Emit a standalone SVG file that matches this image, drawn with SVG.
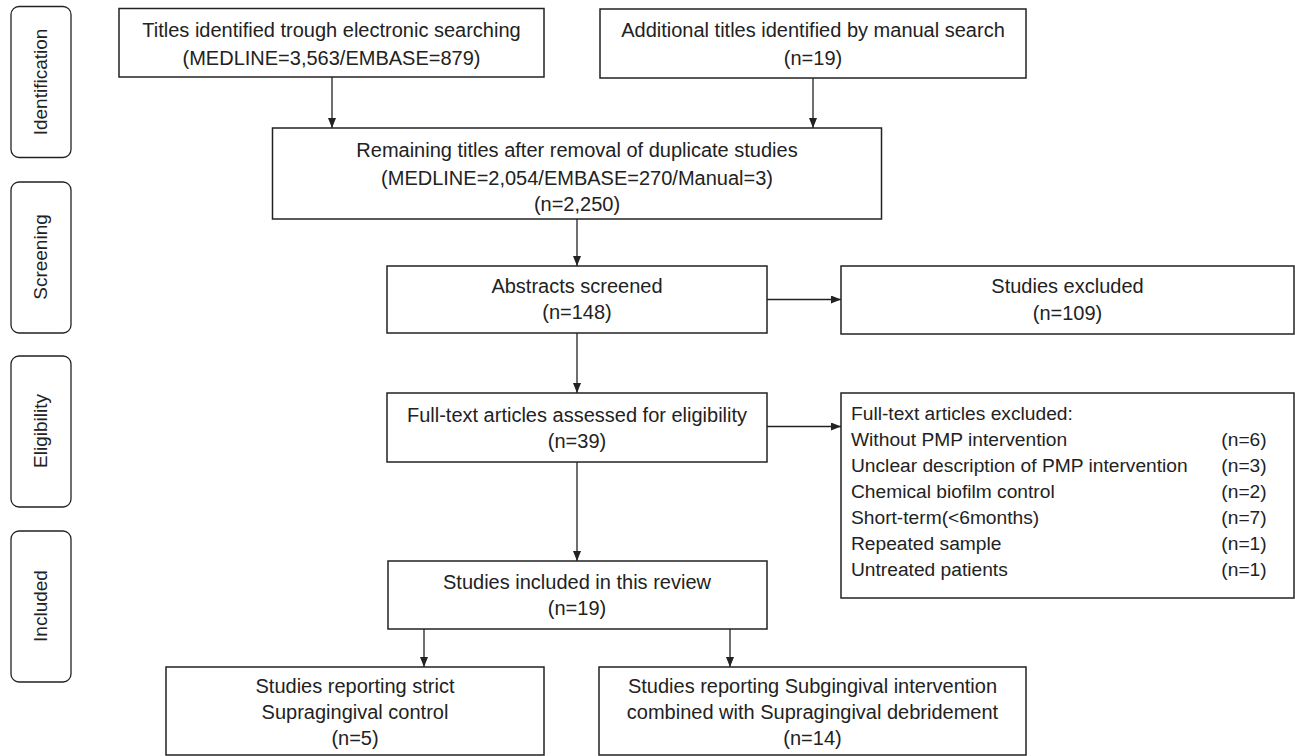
<svg xmlns="http://www.w3.org/2000/svg" width="1295" height="756" viewBox="0 0 1295 756">
<style>
.box{fill:#fff;stroke:#222;stroke-width:1.5}
.side{fill:#fff;stroke:#222;stroke-width:1.3}
text{font-family:"Liberation Sans",Arial,sans-serif;fill:#222}
.t{font-size:20px;text-anchor:middle}
.l{font-size:19.2px}
.n{font-size:19.2px;text-anchor:middle}
.s{font-size:19px;text-anchor:middle}
.c{fill:none;stroke:#222;stroke-width:1.3}
</style>
<defs>
<marker id="ah" viewBox="0 0 10 8" refX="10" refY="4" markerWidth="10" markerHeight="8" markerUnits="userSpaceOnUse" orient="auto">
<path d="M0,0 L10,4 L0,8 z" fill="#222"/>
</marker>
</defs>
<rect width="1295" height="756" fill="#fff"/>

<g id="stage-identification">
<rect class="side" x="11" y="6.5" width="60" height="151" rx="8"/>
<text class="s" transform="translate(47,82) rotate(-90)">Identification</text>
</g>
<g id="stage-screening">
<rect class="side" x="11" y="182" width="60" height="151" rx="8"/>
<text class="s" transform="translate(47,257) rotate(-90)">Screening</text>
</g>
<g id="stage-eligibility">
<rect class="side" x="11" y="356" width="60" height="151" rx="8"/>
<text class="s" transform="translate(47,431) rotate(-90)">Eligibility</text>
</g>
<g id="stage-included">
<rect class="side" x="11" y="531" width="60" height="151" rx="8"/>
<text class="s" transform="translate(47,606) rotate(-90)">Included</text>
</g>

<g id="connectors">
<line class="c" x1="332" y1="77" x2="332" y2="128" marker-end="url(#ah)"/>
<line class="c" x1="813" y1="78" x2="813" y2="128" marker-end="url(#ah)"/>
<line class="c" x1="577" y1="219" x2="577" y2="266" marker-end="url(#ah)"/>
<line class="c" x1="767" y1="299.5" x2="841" y2="299.5" marker-end="url(#ah)"/>
<line class="c" x1="577" y1="333" x2="577" y2="393" marker-end="url(#ah)"/>
<line class="c" x1="767" y1="426.5" x2="841" y2="426.5" marker-end="url(#ah)"/>
<line class="c" x1="577" y1="462" x2="577" y2="561" marker-end="url(#ah)"/>
<line class="c" x1="424" y1="629" x2="424" y2="667" marker-end="url(#ah)"/>
<line class="c" x1="730" y1="629" x2="730" y2="667" marker-end="url(#ah)"/>
</g>

<g id="electronic-search">
<rect class="box" x="119" y="8.5" width="425" height="68.5"/>
<text class="t" x="331.5" y="37">Titles identified trough electronic searching</text>
<text class="t" x="331.5" y="65">(MEDLINE=3,563/EMBASE=879)</text>
</g>
<g id="manual-search">
<rect class="box" x="600" y="9" width="426" height="69"/>
<text class="t" x="813" y="37">Additional titles identified by manual search</text>
<text class="t" x="813" y="65">(n=19)</text>
</g>
<g id="remaining">
<rect class="box" x="272.5" y="128" width="609" height="91"/>
<text class="t" x="577" y="157">Remaining titles after removal of duplicate studies</text>
<text class="t" x="577" y="185">(MEDLINE=2,054/EMBASE=270/Manual=3)</text>
<text class="t" x="577" y="211">(n=2,250)</text>
</g>
<g id="abstracts">
<rect class="box" x="387" y="266" width="380" height="67"/>
<text class="t" x="577" y="293">Abstracts screened</text>
<text class="t" x="577" y="319">(n=148)</text>
</g>
<g id="studies-excluded">
<rect class="box" x="841" y="266" width="453" height="68"/>
<text class="t" x="1067.5" y="293">Studies excluded</text>
<text class="t" x="1067.5" y="320">(n=109)</text>
</g>
<g id="fulltext">
<rect class="box" x="387" y="393" width="380" height="69"/>
<text class="t" x="577" y="422">Full-text articles assessed for eligibility</text>
<text class="t" x="577" y="448">(n=39)</text>
</g>
<g id="fulltext-excluded">
<rect class="box" x="841" y="393" width="453" height="205"/>
<text class="l" x="851" y="420">Full-text articles excluded:</text>
<text class="l" x="851" y="446">Without PMP intervention</text>
<text class="n" x="1244" y="446">(n=6)</text>
<text class="l" x="851" y="472">Unclear description of PMP intervention</text>
<text class="n" x="1244" y="472">(n=3)</text>
<text class="l" x="851" y="498">Chemical biofilm control</text>
<text class="n" x="1244" y="498">(n=2)</text>
<text class="l" x="851" y="524">Short-term(&lt;6months)</text>
<text class="n" x="1244" y="524">(n=7)</text>
<text class="l" x="851" y="550">Repeated sample</text>
<text class="n" x="1244" y="550">(n=1)</text>
<text class="l" x="851" y="576">Untreated patients</text>
<text class="n" x="1244" y="576">(n=1)</text>
</g>
<g id="included">
<rect class="box" x="388" y="561" width="379" height="68"/>
<text class="t" x="577" y="589">Studies included in this review</text>
<text class="t" x="577" y="615">(n=19)</text>
</g>
<g id="supragingival">
<rect class="box" x="166" y="667" width="378" height="88"/>
<text class="t" x="355" y="693">Studies reporting strict</text>
<text class="t" x="355" y="719">Supragingival control</text>
<text class="t" x="355" y="745">(n=5)</text>
</g>
<g id="subgingival">
<rect class="box" x="599" y="667" width="427" height="88"/>
<text class="t" x="812.5" y="693">Studies reporting Subgingival intervention</text>
<text class="t" x="812.5" y="719">combined with Supragingival debridement</text>
<text class="t" x="812.5" y="745">(n=14)</text>
</g>
</svg>
